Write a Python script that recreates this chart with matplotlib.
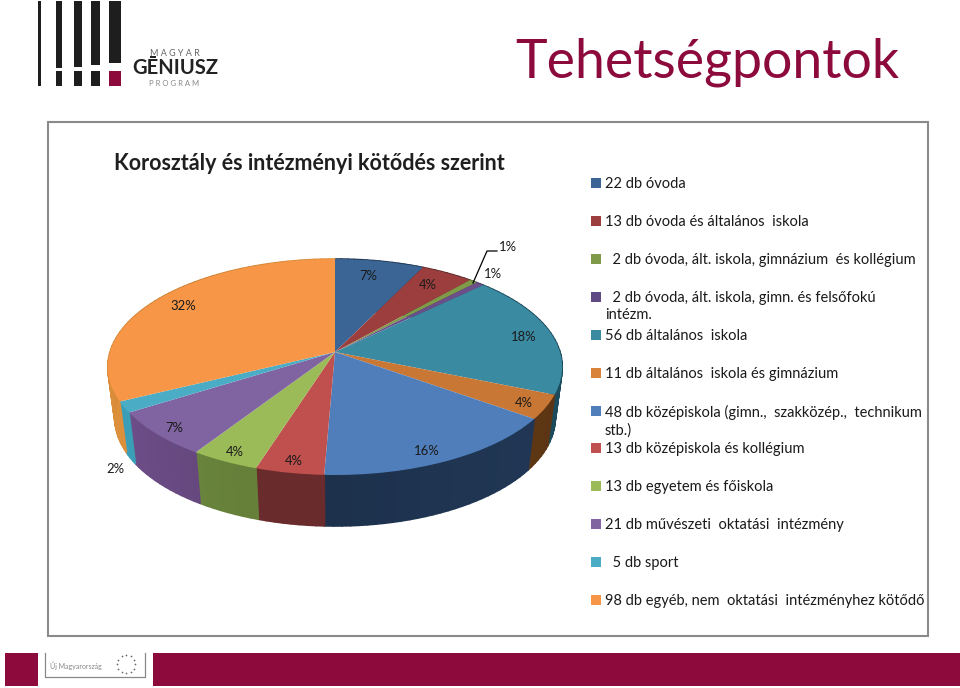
import numpy as np
import matplotlib
matplotlib.use("Agg")
import matplotlib.pyplot as plt
from matplotlib.collections import PolyCollection
from matplotlib.patches import Rectangle
from matplotlib.transforms import Transform
from matplotlib.colors import to_rgb

plt.rcParams['font.family'] = ['Lato', 'DejaVu Sans']

title = "Tehetségpontok"
subtitle = "Korosztály és intézményi kötődés szerint"
categories = [
    "22 db óvoda", "13 db óvoda és általános  iskola",
    "  2 db óvoda, ált. iskola, gimnázium  és kollégium",
    "  2 db óvoda, ált. iskola, gimn. és felsőfokú\nintézm.",
    "56 db általános  iskola", "11 db általános  iskola és gimnázium",
    "48 db középiskola (gimn.,  szakközép.,  technikum\nstb.)",
    "13 db középiskola és kollégium", "13 db egyetem és főiskola",
    "21 db művészeti  oktatási  intézmény", "  5 db sport",
    "98 db egyéb, nem  oktatási  intézményhez kötődő",
]
counts = [22, 13, 2, 2, 56, 11, 48, 13, 13, 21, 5, 98]
pct_labels = ["7%", "4%", "1%", "1%", "18%", "4%", "16%", "4%", "4%", "7%", "2%", "32%"]
top_colors = ["#3a6595", "#9c3e3e", "#7f9a48", "#6a4f8b", "#3a8aa2", "#c97734",
              "#4f7eba", "#c0504d", "#9bbb59", "#8064a2", "#4bacc6", "#f79646"]
wall_colors = ["#1d3350", "#5a2a2a", "#55682f", "#463563", "#1c4c5e", "#5c3514",
               "#1f3552", "#722f30", "#6e8a3f", "#6b4c85", "#3a9cb5", "#d98d3a"]
legend_colors = ["#3a6595", "#9c3e3e", "#7f9a48", "#5f4a85", "#3a8aa2", "#d9833a",
                 "#4f7eba", "#c0504d", "#9bbb59", "#8064a2", "#4bacc6", "#f79646"]

CRIMSON = "#8c0a3c"
TEXT = "#1a1a1a"


def project(xy, depth=0.0):
    """Perspective view of the unit disc, in image pixels."""
    xy = np.asarray(xy, float)
    A = 225.0 - 7.0 * depth
    w = 1 + 0.139 * xy[:, 1]
    return np.column_stack([335 + A * xy[:, 0] / w, 352 + 51 * depth - 105.9 * xy[:, 1] / w])


class DiscView(Transform):
    input_dims = output_dims = 2
    is_separable = False
    has_inverse = False

    def transform_non_affine(self, values):
        return project(values)


fig = plt.figure(figsize=(9.6, 6.88), dpi=100, facecolor="white")
ax = fig.add_axes([0, 0, 1, 1])

# ---- pie top, drawn by the pie routine through the perspective view
wedges, _ = ax.pie(counts, colors=top_colors, startangle=90, counterclock=False,
                   wedgeprops=dict(linewidth=0))
view = DiscView()
for w in wedges:
    w.set_transform(view + ax.transData)
    w.set_zorder(5)

ax.set_aspect("auto")
ax.set_xlim(0, 960)
ax.set_ylim(688, 0)
ax.axis("off")

# ---- pie side wall, angles from the same values
fractions = np.array(counts, float) / np.sum(counts)
edges = np.r_[0, np.cumsum(fractions)] * 2 * np.pi
polys, shades = [], []
for i in range(len(counts)):
    angs = np.linspace(edges[i], edges[i + 1], max(3, int(counts[i] * 0.6) + 2))
    base = np.array(to_rgb(wall_colors[i]))
    for a0, a1 in zip(angs[:-1], angs[1:]):
        pts = np.column_stack([np.sin([a0, a1]), np.cos([a0, a1])])
        top = project(pts)
        bot = project(pts, depth=1.0)
        polys.append([top[0], top[1], bot[1], bot[0]])
        shade = 0.97 + 0.05 * np.sin(0.5 * (a0 + a1) * 3 + 1.0)
        shades.append(np.clip(base * shade, 0, 1))
ax.add_collection(PolyCollection(polys, facecolors=shades, edgecolors=shades,
                                 linewidths=1.2, zorder=4))

# ---- percentage labels
label_xy = [(368, 276), (428, 285), (508, 247), (493, 274), (524, 337), (524, 403),
            (427, 451), (294, 461), (235, 452), (174, 428), (115, 469), (183, 306)]
for s, (x, y) in zip(pct_labels, label_xy):
    ax.text(x, y, s, fontsize=9.4, color=TEXT, ha="center", va="center", zorder=7)
ax.plot([473, 487, 497], [283, 251, 251], color="black", lw=0.9, zorder=7)

# ---- chart frame
ax.add_patch(Rectangle((48, 122), 880, 514, facecolor="none", edgecolor="#8a8a8a",
                       lw=1.5, zorder=1))
ax.text(114, 164, subtitle, fontsize=15.5, fontweight="bold", color="#1f1f1f",
        ha="left", va="center", zorder=7)

# ---- legend
legend_y = [183, 221, 259, 297, 335, 373, 411, 448, 486, 524, 562, 600]
for lab, col, y in zip(categories, legend_colors, legend_y):
    ax.add_patch(Rectangle((591, y - 5), 10, 10, facecolor=col, edgecolor="none", zorder=6))
    ax.text(605, y - 6, lab, fontsize=10.5, color=TEXT, ha="left", va="top",
            linespacing=1.26, zorder=7)

# ---- main title
ax.text(515, 62, title, fontsize=38.7, color=CRIMSON, ha="left", va="center", zorder=7)

# ---- logo
bar_x = [38, 56, 74, 91, 109]
bar_w = [3, 6, 8, 9, 12]
bar_h = [85, 67, 66, 64, 62]
for x, bw, bh in zip(bar_x, bar_w, bar_h):
    ax.add_patch(Rectangle((x, 1), bw, bh, facecolor="#1e1e1e", edgecolor="none"))
    if x != 38:
        ax.add_patch(Rectangle((x, 71), bw, 15, facecolor="#1e1e1e" if x != 109 else CRIMSON,
                               edgecolor="none"))
ax.text(175, 53, "M A G Y A R", fontsize=6.5, color="#666666", ha="center", va="center")
ax.text(175, 68, "GĒNIUSZ", fontsize=14.5, color="#222222", ha="center", va="center", fontweight="bold")
ax.text(174, 84, "P R O G R A M", fontsize=5.5, color="#888888", ha="center", va="center")

# ---- footer
ax.add_patch(Rectangle((5, 653), 33, 33, facecolor=CRIMSON, edgecolor="none"))
ax.add_patch(Rectangle((153, 653), 807, 33, facecolor=CRIMSON, edgecolor="none"))
ax.plot([45, 45, 145, 145], [653, 677, 677, 653], color="#888888", lw=0.9)
ax.text(76, 666, "Új Magyarország", fontsize=5, color="#888888", ha="center", va="center")
ring = np.linspace(0, 2 * np.pi, 12, endpoint=False)
ax.scatter(126 + 9 * np.cos(ring), 664 + 9 * np.sin(ring), s=1.5, color="#666666", lw=0)

fig.savefig("out.png", dpi=100)
